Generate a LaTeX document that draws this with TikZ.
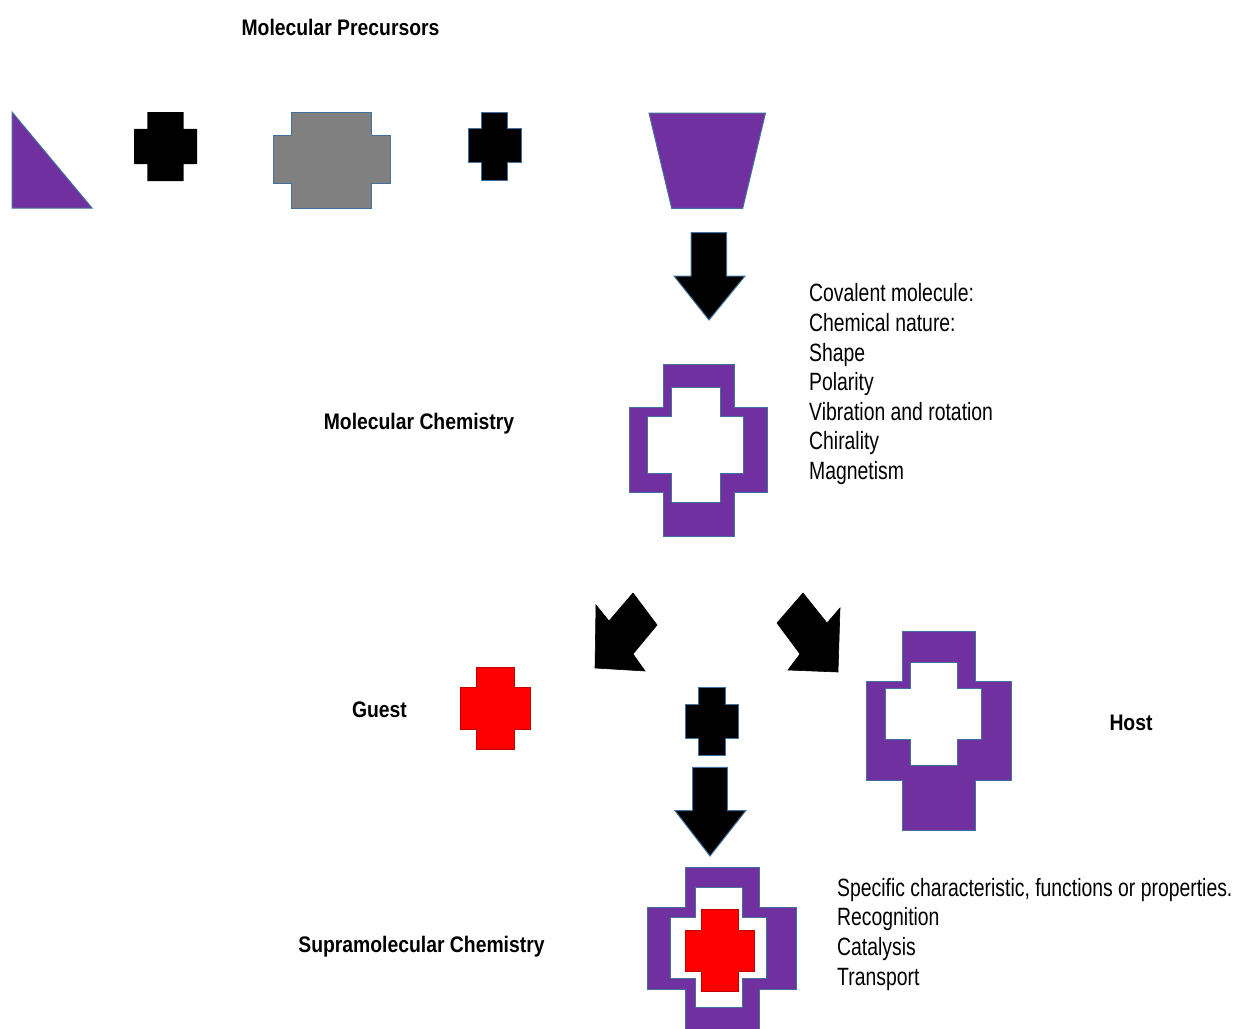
\documentclass[tikz,border=0pt]{standalone}
\usepackage{fontspec}
\newfontfamily\regfont{Liberation Sans}[FakeStretch=0.775]
\newfontfamily\boldfont{Liberation Sans}[FakeStretch=0.86]
\definecolor{mypurple}{HTML}{7030A0}
\definecolor{myoutline}{HTML}{41719C}
\definecolor{mygray}{HTML}{808080}
\definecolor{myredline}{HTML}{C00000}
% cross: vertical arm x1 x2 y1 y2 ; horizontal arm X1 X2 Y1 Y2
\newcommand\mycross[8]{(#1,#3) -- (#2,#3) -- (#2,#7) -- (#6,#7) -- (#6,#8) -- (#2,#8) -- (#2,#4) -- (#1,#4) -- (#1,#8) -- (#5,#8) -- (#5,#7) -- (#1,#7) -- cycle}
\begin{document}
\begin{tikzpicture}[x=1pt,y=-1pt,
  shapeline/.style={draw=myoutline,line width=1pt,line join=miter},
  purpleshape/.style={shapeline,fill=mypurple},
  whiteshape/.style={shapeline,fill=white},
  blackshape/.style={shapeline,fill=black},
  blockarrow/.style={draw=black,fill=black,line width=0.6pt},
  redshape/.style={draw=myredline,fill=red,line width=1pt},
  boldlabel/.style={inner sep=0pt,anchor=base,font=\boldfont\bfseries\fontsize{22.5}{26}\selectfont},
  listtext/.style={inner sep=0pt,anchor=base west,align=left,font=\regfont\fontsize{25}{29.6}\selectfont}]
\useasboundingbox (0,0) rectangle (1233,1028);
\clip (0,0) rectangle (1233,1028);
% titles
\node[boldlabel] (precursors) at (340.5,35.5) {Molecular Precursors};
\node[boldlabel] (molchem) at (419,429.5) {Molecular Chemistry};
\node[boldlabel] (guestlabel) at (379.5,717) {Guest};
\node[boldlabel] (hostlabel) at (1131,730) {Host};
\node[boldlabel] (supramol) at (421.5,952) {Supramolecular Chemistry};
% precursors row
\draw[purpleshape] (12,112) -- (12,208) -- (92,208) -- cycle;
\fill[black] \mycross{147.4}{183.6}{112}{181}{134}{197}{128.8}{164.2};
\draw[shapeline,fill=mygray] \mycross{291.4}{371.6}{112}{208}{273}{390}{135.4}{183.9};
\draw[blackshape] \mycross{481.5}{507.8}{112}{180}{468}{521}{128.8}{162.5};
\draw[purpleshape] (649,113) -- (765.5,113) -- (742.7,208.3) -- (671.7,208.3) -- cycle;
% first down arrow
\draw[shapeline,fill=black] (691,232.7) -- (726.7,232.7) -- (726.7,276) -- (745,276) -- (709,320) -- (674,276) -- (691,276) -- cycle;
% molecular chemistry cross (hollow)
\draw[purpleshape] \mycross{663.3}{734.3}{364.3}{536.7}{629}{767.7}{407.3}{492.3};
\draw[whiteshape] \mycross{671}{720}{387.3}{502.7}{647.7}{743.3}{416.7}{473.3};
% list 1 (anchor at baseline of last line)
\node[listtext] (list1) at (809,479.5) {Covalent molecule:\\Chemical nature:\\Shape\\Polarity\\Vibration and rotation\\Chirality\\Magnetism};
% diagonal arrows
\draw[blockarrow] (596,605) -- (609,621) -- (633,593) -- (657,625) -- (633,654) -- (645,671) -- (595,668) -- cycle;
\draw[blockarrow] (803,593) -- (827,623) -- (840,608) -- (838,672) -- (788,670) -- (800,654) -- (777,623) -- cycle;
% guest
\draw[redshape] \mycross{476}{514.3}{667.3}{749.3}{460}{530}{687.7}{729.3};
% middle black cross
\draw[blackshape] \mycross{698.3}{725}{687.7}{755}{685.3}{738.3}{704.3}{738.3};
% second down arrow
\draw[shapeline,fill=black] (692.7,767.3) -- (727.3,767.3) -- (727.3,810.7) -- (745.7,810.7) -- (710,856) -- (675,810.7) -- (692.7,810.7) -- cycle;
% host
\draw[purpleshape] \mycross{902.7}{975.3}{631}{830.7}{866.7}{1011.7}{681}{780.7};
\draw[whiteshape] \mycross{910}{957.3}{662.3}{765.7}{885.7}{981}{688.3}{739};
% supramolecular complex
\draw[purpleshape] \mycross{685}{759.3}{867.3}{1040}{647.7}{796.7}{907.7}{989};
\draw[whiteshape] \mycross{695}{742.3}{887.3}{1007.7}{670.7}{766.7}{917.3}{978.3};
\draw[redshape] \mycross{701}{738.3}{909.3}{991.7}{685}{754.3}{930}{971.7};
% list 2 (anchor at baseline of last line)
\node[listtext] (list2) at (837,985) {Specific characteristic, functions or properties.\\Recognition\\Catalysis\\Transport};
\end{tikzpicture}
\end{document}
